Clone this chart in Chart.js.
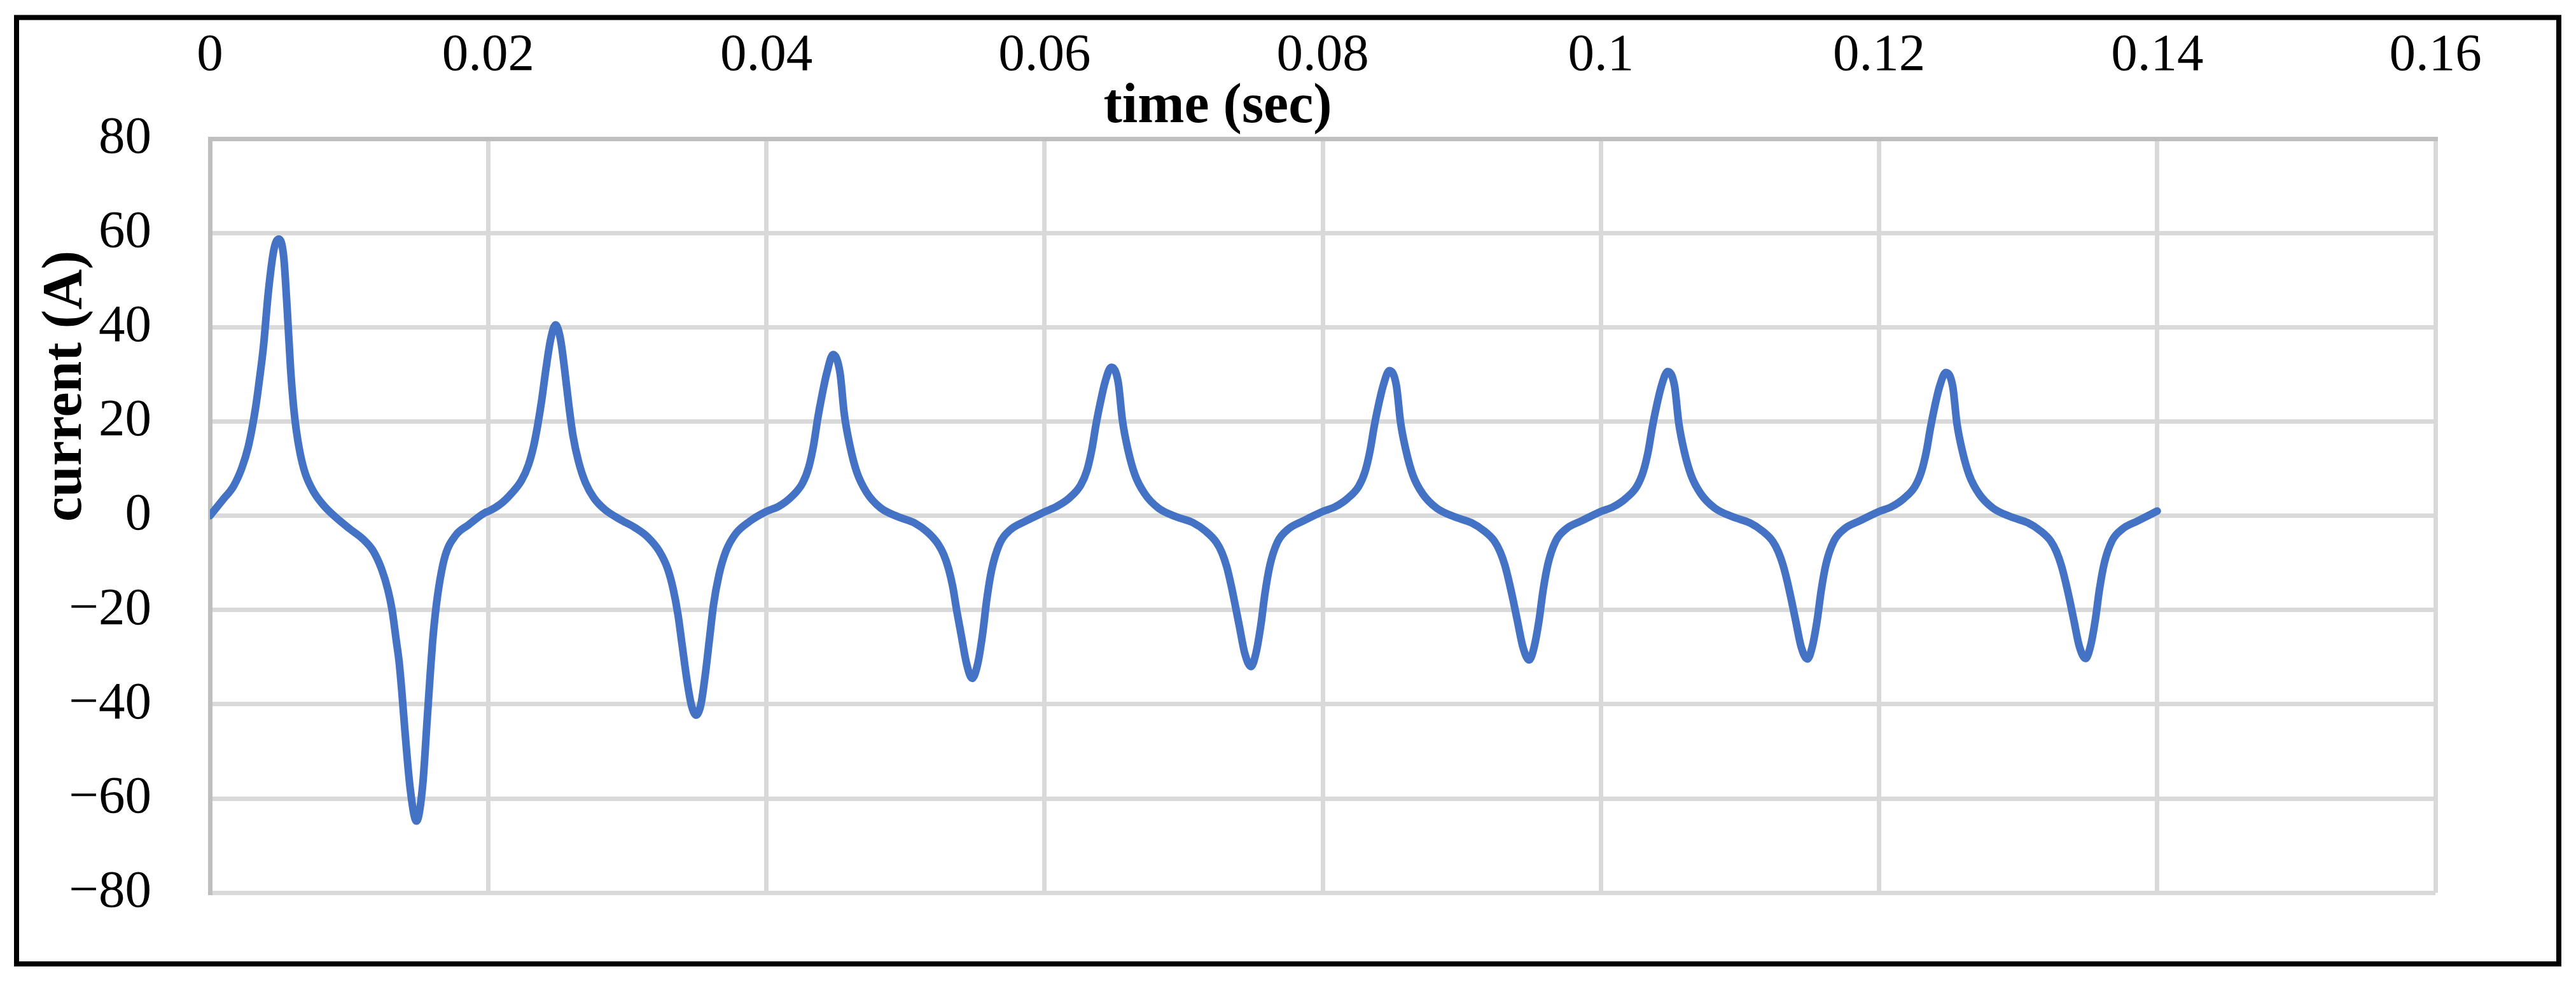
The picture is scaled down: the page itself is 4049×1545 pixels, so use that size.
<!DOCTYPE html>
<html>
<head>
<meta charset="utf-8">
<script src="https://cdn.jsdelivr.net/npm/chart.js@4.4.1/dist/chart.umd.min.js"></script>
<style>
  html, body { margin: 0; padding: 0; background: #ffffff; }
  #wrap { position: relative; width: 4049px; height: 1545px; }
  canvas { display: block; }
</style>
</head>
<body>
<div id="wrap"><canvas id="c" width="4049" height="1545"></canvas></div>
<script>
// ---- data (time in ms, current in A) ----
const timeMs = [
  // cycle 1
  0, 0.9, 1.7, 2.3, 2.75, 3.05, 3.3, 3.5, 3.85, 4.2, 4.6, 4.95, 5.3, 5.55, 5.8, 6.0, 6.2, 6.48, 6.86, 7.47, 8.23,
  9.15, 10.06, 10.98, 11.74, 12.35, 12.8, 13.1, 13.4, 13.6, 13.8, 14.0, 14.4, 14.85, 15.3, 15.6, 15.85, 16.0, 16.23, 16.54, 16.92, 17.68, 18.6, 19.8,
  // cycle 2
  20.0, 20.9, 21.7, 22.4, 22.9, 23.25, 23.55, 23.85, 24.15, 24.5, 24.85, 25.2, 25.5, 25.8, 26.1, 26.5, 27.0, 27.6, 28.4,
  29.5, 30.6, 31.5, 32.3, 32.9, 33.3, 33.65, 33.95, 34.3, 34.6, 34.95, 35.3, 35.6, 35.9, 36.2, 36.6, 37.1, 37.8, 38.8,
  // cycle 3
  40.0, 40.9, 41.8, 42.6, 43.05, 43.4, 43.7, 44.0, 44.35, 44.8, 45.3, 45.6, 46.0, 46.5, 47.2, 48.2,
  49.45, 50.7, 51.6, 52.35, 52.75, 53.1, 53.4, 53.7, 54.0, 54.4, 54.8, 55.2, 55.55, 55.85, 56.2, 56.75, 57.5, 58.6,
  // cycle 4
  60.0, 60.9, 61.8, 62.6, 63.05, 63.4, 63.7, 64.0, 64.35, 64.8, 65.3, 65.6, 66.0, 66.5, 67.2, 68.2,
  69.45, 70.7, 71.6, 72.35, 72.75, 73.1, 73.4, 73.7, 74.0, 74.4, 74.85, 75.2, 75.55, 75.85, 76.2, 76.75, 77.5, 78.6,
  // cycle 5
  80.0, 80.9, 81.8, 82.6, 83.05, 83.4, 83.7, 84.0, 84.35, 84.8, 85.3, 85.6, 86.0, 86.5, 87.2, 88.2,
  89.45, 90.7, 91.6, 92.35, 92.75, 93.1, 93.4, 93.7, 94.0, 94.4, 94.85, 95.2, 95.55, 95.85, 96.2, 96.75, 97.5, 98.6,
  // cycle 6
  100.0, 100.9, 101.8, 102.6, 103.05, 103.4, 103.7, 104.0, 104.35, 104.8, 105.3, 105.6, 106.0, 106.5, 107.2, 108.2,
  109.45, 110.7, 111.6, 112.35, 112.75, 113.1, 113.4, 113.7, 114.0, 114.4, 114.85, 115.2, 115.55, 115.85, 116.2, 116.75, 117.5, 118.6,
  // cycle 7
  120.0, 120.9, 121.8, 122.6, 123.05, 123.4, 123.7, 124.0, 124.35, 124.8, 125.3, 125.6, 126.0, 126.5, 127.2, 128.2,
  129.45, 130.7, 131.6, 132.35, 132.75, 133.1, 133.4, 133.7, 134.0, 134.4, 134.85, 135.2, 135.55, 135.85, 136.2, 136.75, 137.5, 138.6, 140.0
];
const currentA = [
  // cycle 1
  0.0, 3.3, 6.3, 10.2, 14.6, 18.9, 23.3, 27.6, 36.0, 47.5, 56.5, 58.7, 55.0, 44.0, 31.0, 23.5, 18.3, 13.3, 8.9, 5.0, 2.0,
  -0.6, -2.8, -4.9, -7.5, -11.4, -15.8, -20.1, -26.6, -31.0, -37.5, -45.0, -58.0, -64.8, -57.0, -44.0, -33.0, -27.0, -20.1, -13.6, -8.4, -4.1, -1.9, 0.7,
  // cycle 2
  0.9, 2.5, 4.8, 7.5, 10.8, 14.5, 19.0, 24.5, 31.0, 37.5, 40.5, 37.5, 31.0, 23.5, 17.0, 11.5, 7.0, 3.8, 1.3,
  -0.8, -2.6, -4.6, -7.5, -11.2, -15.5, -21.0, -27.5, -35.0, -40.0, -42.3, -40.0, -34.0, -26.5, -19.0, -12.5, -7.5, -3.8, -1.2,
  // cycle 3
  0.9, 2.0, 4.0, 6.9, 10.3, 15.0, 20.7, 25.5, 30.3, 34.2, 30.3, 21.7, 15.0, 9.3, 5.0, 1.7,
  -0.2, -1.6, -3.5, -6.0, -8.2, -11.2, -15.0, -20.3, -25.1, -31.4, -34.5, -31.4, -25.1, -17.8, -11.5, -6.1, -3.1, -1.2,
  // cycle 4
  0.8, 2.0, 3.8, 6.5, 9.6, 14.0, 19.3, 23.8, 28.3, 31.5, 28.3, 20.3, 14.0, 8.7, 4.7, 1.6,
  -0.2, -1.5, -3.3, -5.6, -7.8, -10.8, -14.5, -18.8, -23.3, -29.2, -32.0, -29.2, -23.3, -16.5, -10.6, -5.6, -2.9, -1.1,
  // cycle 5
  0.9, 1.9, 3.7, 6.3, 9.4, 13.7, 18.9, 23.3, 27.6, 30.8, 27.6, 19.8, 13.7, 8.5, 4.6, 1.6,
  -0.2, -1.5, -3.2, -5.4, -7.6, -10.5, -14.0, -18.0, -22.3, -27.9, -30.6, -27.9, -22.3, -15.8, -10.2, -5.4, -2.8, -1.1,
  // cycle 6
  0.9, 1.9, 3.7, 6.3, 9.4, 13.6, 18.8, 23.2, 27.5, 30.6, 27.5, 19.7, 13.6, 8.5, 4.6, 1.6,
  -0.2, -1.5, -3.2, -5.4, -7.6, -10.5, -13.9, -17.9, -22.2, -27.8, -30.4, -27.8, -22.2, -15.7, -10.1, -5.4, -2.8, -1.1,
  // cycle 7
  0.9, 1.9, 3.7, 6.3, 9.4, 13.6, 18.7, 23.1, 27.4, 30.4, 27.4, 19.6, 13.6, 8.5, 4.6, 1.6,
  -0.2, -1.5, -3.2, -5.4, -7.6, -10.5, -13.9, -17.8, -22.1, -27.7, -30.3, -27.7, -22.1, -15.6, -10.0, -5.3, -2.8, -1.1, 1.0
];
const xTickValues = [0, 0.02, 0.04, 0.06, 0.08, 0.10, 0.12, 0.14, 0.16];
const xTickLabels = ['0', '0.02', '0.04', '0.06', '0.08', '0.1', '0.12', '0.14', '0.16'];
const yTickValues = [-80, -60, -40, -20, 0, 20, 40, 60, 80];
const yTickLabels = ['\u221280', '\u221260', '\u221240', '\u221220', '0', '20', '40', '60', '80'];
const xTitle = 'time (sec)';
const yTitle = 'current (A)';

const points = timeMs.map((t, i) => ({ x: t / 1000, y: currentA[i] }));

const frameAndTitles = {
  id: 'frameAndTitles',
  beforeDraw(chart) {
    const ctx = chart.ctx;
    ctx.save();
    ctx.fillStyle = '#ffffff';
    ctx.fillRect(0, 0, chart.width, chart.height);
    ctx.restore();
  },
  afterDraw(chart) {
    const ctx = chart.ctx;
    const a = chart.chartArea;
    ctx.save();
    ctx.strokeStyle = '#000000';
    ctx.lineWidth = 8;
    ctx.strokeRect(26, 27.5, 4022 - 26, 1515 - 27.5);
    ctx.fillStyle = '#000000';
    ctx.font = 'bold 88px "Liberation Serif", "Times New Roman", serif';
    ctx.textAlign = 'center';
    ctx.textBaseline = 'alphabetic';
    ctx.fillText(xTitle, a.left + 1584, a.top - 26);
    ctx.translate(127, 607);
    ctx.rotate(-Math.PI / 2);
    ctx.fillText(yTitle, 0, 0);
    ctx.restore();
  }
};

new Chart(document.getElementById('c'), {
  type: 'line',
  data: {
    datasets: [{
      data: points,
      borderColor: '#4472c4',
      borderWidth: 12,
      pointRadius: 0,
      fill: false,
      cubicInterpolationMode: 'monotone',
      borderCapStyle: 'round',
      borderJoinStyle: 'round'
    }]
  },
  options: {
    responsive: false,
    animation: false,
    devicePixelRatio: 1,
    parsing: false,
    layout: { padding: { left: 0, top: 0, right: 221, bottom: 102 } },
    plugins: { legend: { display: false }, tooltip: { enabled: false }, title: { display: false } },
    scales: {
      x: {
        type: 'linear',
        position: 'top',
        min: 0,
        max: 0.16,
        afterBuildTicks: s => { s.ticks = xTickValues.map(v => ({ value: v })); },
        afterFit: s => { s.height = 218; },
        ticks: {
          padding: 80,
          maxRotation: 0,
          autoSkip: false,
          color: '#000000',
          font: { family: '"Liberation Serif", "Times New Roman", serif', size: 83 },
          callback: (v, i) => xTickLabels[i]
        },
        grid: { color: '#d9d9d9', lineWidth: 7, drawTicks: false, tickLength: 0 },
        border: { display: true, color: '#bfbfbf', width: 7 }
      },
      y: {
        type: 'linear',
        position: 'left',
        min: -80,
        max: 80,
        afterBuildTicks: s => { s.ticks = yTickValues.map(v => ({ value: v })); },
        afterFit: s => { s.width = 330; },
        ticks: {
          padding: 92,
          autoSkip: false,
          color: '#000000',
          font: { family: '"Liberation Serif", "Times New Roman", serif', size: 83 },
          callback: (v, i) => yTickLabels[i]
        },
        grid: { color: '#d9d9d9', lineWidth: 7, drawTicks: false, tickLength: 0 },
        border: { display: true, color: '#bfbfbf', width: 7 }
      }
    }
  },
  plugins: [frameAndTitles]
});
</script>
</body>
</html>
